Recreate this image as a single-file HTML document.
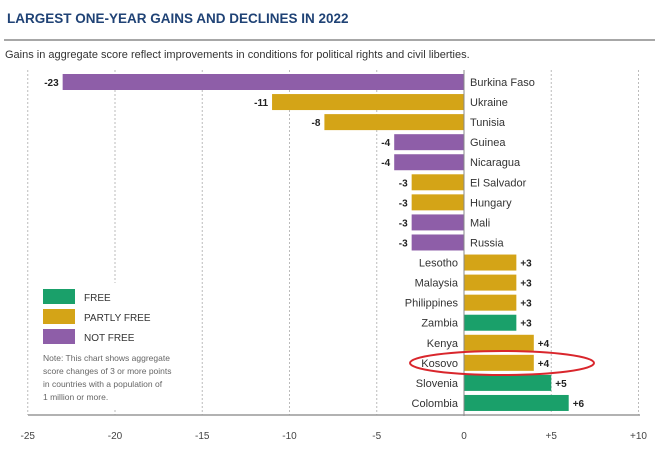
<!DOCTYPE html>
<html><head><meta charset="utf-8"><style>
body{margin:0;background:#fff;width:655px;height:447px;overflow:hidden;font-family:"Liberation Sans",sans-serif}
</style></head><body>
<svg width="655" height="447" id="svg">
<text x="7" y="23" font-size="13.5" font-weight="bold" fill="#1f4275">LARGEST ONE-YEAR GAINS AND DECLINES IN 2022</text>
<line x1="4" y1="40" x2="655" y2="40" stroke="#8a8a8a" stroke-width="1.5"/>
<text x="5" y="58" font-size="11" fill="#333">Gains in aggregate score reflect improvements in conditions for political rights and civil liberties.</text>
<g id="grid"></g>
<rect x="38" y="283" width="150" height="126" fill="#fff"/>
<g id="bars"></g><g id="axis"></g>
<g>
<rect x="43" y="289" width="32" height="15" fill="#1aa06a"/>
<text x="84" y="301" font-size="10" fill="#333">FREE</text>
<rect x="43" y="309" width="32" height="15" fill="#d4a417"/>
<text x="84" y="321" font-size="10" fill="#333">PARTLY FREE</text>
<rect x="43" y="329" width="32" height="15" fill="#8e5ea8"/>
<text x="84" y="341" font-size="10" fill="#333">NOT FREE</text>
</g>
<g font-size="8.5" fill="#666">
<text x="43" y="361">Note: This chart shows aggregate</text>
<text x="43" y="374">score changes of 3 or more points</text>
<text x="43" y="387">in countries with a population of</text>
<text x="43" y="400">1 million or more.</text>
</g>
<ellipse cx="502" cy="363" rx="92" ry="12" fill="none" stroke="#d9262c" stroke-width="2"/>
</svg>
<script>
const countries=["Burkina Faso","Ukraine","Tunisia","Guinea","Nicaragua","El Salvador","Hungary","Mali","Russia","Lesotho","Malaysia","Philippines","Zambia","Kenya","Kosovo","Slovenia","Colombia"];
const values=[-23,-11,-8,-4,-4,-3,-3,-3,-3,3,3,3,3,4,4,5,6];
const statuses=["NF","PF","PF","NF","NF","PF","PF","NF","NF","PF","PF","PF","F","PF","PF","F","F"];
const ticks=[-25,-20,-15,-10,-5,0,5,10];
const tickLabels=["-25","-20","-15","-10","-5","0","+5","+10"];
const colors={F:"#1aa06a",PF:"#d4a417",NF:"#8e5ea8"};
const x=v=>464+v*17.45;
const rowY=i=>74+i*20.06;
const NS="http://www.w3.org/2000/svg";
function mk(tag,attrs,parent,txt){const e=document.createElementNS(NS,tag);for(const k in attrs)e.setAttribute(k,attrs[k]);if(txt!==undefined)e.textContent=txt;document.getElementById(parent).appendChild(e);return e;}
ticks.forEach((t,i)=>{
  if(t!==0){const g=mk("line",{x1:x(t),x2:x(t),y1:70,y2:415,stroke:"#bbb","stroke-dasharray":"2,2"},"grid");
  
  }
  const l=mk("text",{x:x(t),y:439,"font-size":"10","text-anchor":"middle",fill:"#444"},"axis",tickLabels[i]);
  
  
});
const ax=mk("line",{x1:28,x2:640,y1:415,y2:415,stroke:"#999","stroke-width":"1.5"},"axis");


const z=mk("line",{x1:x(0),x2:x(0),y1:70,y2:416,stroke:"#888"},"axis");


values.forEach((v,i)=>{
  const y=rowY(i);
  const r=mk("rect",{x:Math.min(x(0),x(v)),y:y,width:Math.abs(x(v)-x(0)),height:16,fill:colors[statuses[i]]},"bars");
  
  
  const neg=v<0;
  const vl=mk("text",{x:neg?x(v)-4:x(v)+4,y:y+12,"font-size":"10","font-weight":"bold","text-anchor":neg?"end":"start",fill:"#222"},"bars",neg?String(v):"+"+v);
  
  
  const cl=mk("text",{x:neg?x(0)+6:x(0)-6,y:y+12,"font-size":"11","text-anchor":neg?"start":"end",fill:"#333"},"bars",countries[i]);
  
  
});
</script>
</body></html>
